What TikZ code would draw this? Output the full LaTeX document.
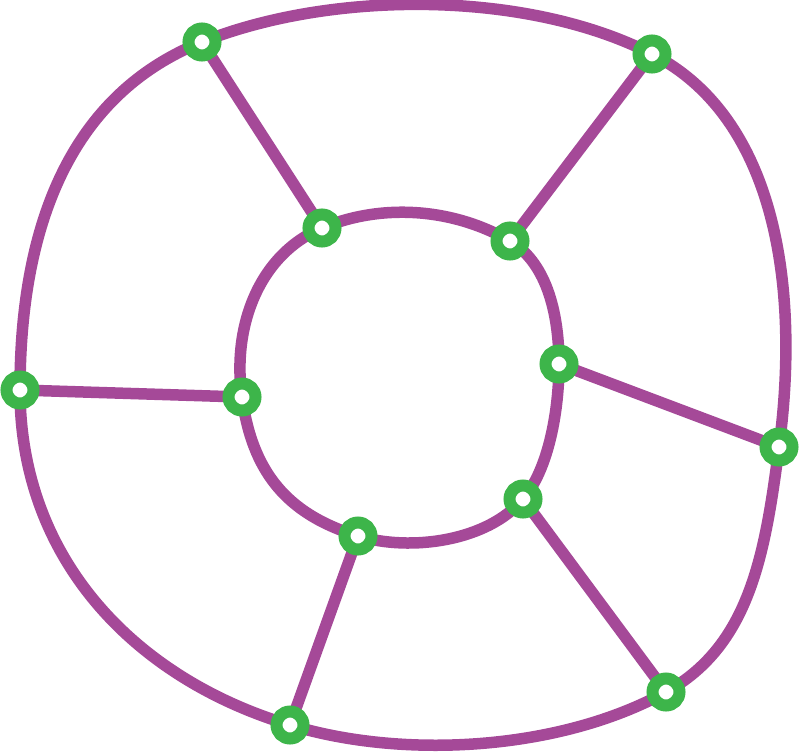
\documentclass[tikz,border=0pt]{standalone}
\definecolor{ringpurple}{RGB}{165,73,152}
\definecolor{dotgreen}{RGB}{61,181,74}
\tikzset{
  edge/.style={draw=ringpurple, line width=11.5pt, line join=round, line cap=round},
  vert/.style={circle, draw=dotgreen, fill=white, line width=12pt, minimum size=27pt, inner sep=0pt}
}
\begin{document}
\begin{tikzpicture}[x=1pt, y=-1pt]
\useasboundingbox (0,0) rectangle (800,755);
% outer vertices
\coordinate (o1) at (202,42);
\coordinate (o2) at (652,54);
\coordinate (o3) at (779,447);
\coordinate (o4) at (666,692);
\coordinate (o5) at (290,725);
\coordinate (o6) at (20,390);
% inner vertices
\coordinate (i1) at (322,228);
\coordinate (i2) at (510,241);
\coordinate (i3) at (559,364);
\coordinate (i4) at (523,499);
\coordinate (i5) at (358,536);
\coordinate (i6) at (242,397);
% outer ring
\draw[edge] (o1) .. controls +(130,-52) and +(-125,-64) .. (o2)
  .. controls +(125,64) and +(21,-158) .. (o3)
  .. controls +(-14,109) and +(83,-46) .. (o4)
  .. controls +(-105,58) and +(115,35) .. (o5)
  .. controls +(-154,-46) and +(0,170) .. (o6)
  .. controls +(0,-150) and +(-140,56) .. (o1);
% inner ring
\draw[edge] (i1) .. controls +(60,-25) and +(-57,-33) .. (i2)
  .. controls +(39,23) and +(0,-45) .. (i3)
  .. controls +(0,45) and +(26,-30) .. (i4)
  .. controls +(-35,42) and +(53,16) .. (i5)
  .. controls +(-72,-22) and +(10,74) .. (i6)
  .. controls +(-10,-69) and +(-64,27) .. (i1);
% spokes
\draw[edge] (o1) -- (i1);
\draw[edge] (o2) -- (i2);
\draw[edge] (o3) -- (i3);
\draw[edge] (o4) -- (i4);
\draw[edge] (o5) -- (i5);
\draw[edge] (o6) -- (i6);
% vertex markers
\foreach \v in {o1,o2,o3,o4,o5,o6,i1,i2,i3,i4,i5,i6}
  \node[vert] (n\v) at (\v) {};
\end{tikzpicture}
\end{document}
